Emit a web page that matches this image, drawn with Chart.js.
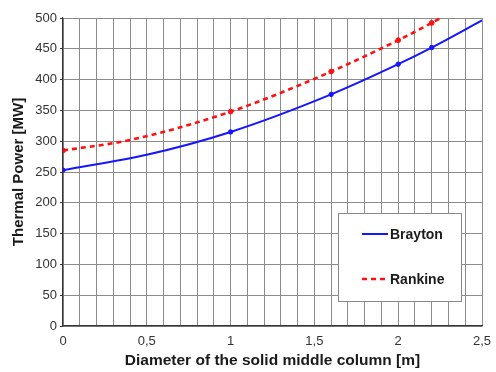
<!DOCTYPE html>
<html>
<head>
<meta charset="utf-8">
<script src="https://cdn.jsdelivr.net/npm/chart.js@4/dist/chart.umd.min.js"></script>
<style>
html,body{margin:0;padding:0;background:#fff;}
#wrap{width:496px;height:372px;position:relative;}
</style>
</head>
<body>
<div id="wrap"><canvas id="c" width="496" height="372"></canvas></div>
<script>
// ---- data ----
const braytonX = [0, 0.5, 1, 1.6, 2, 2.2, 2.5];
const braytonY = [253, 278, 315, 376, 425, 452, 496];
const braytonMarked = [true, false, true, true, true, true, false];

const rankineX = [0, 0.4, 1, 1.6, 2, 2.2, 2.3];
const rankineY = [285, 302, 348, 413, 464, 492, 507];
const rankineMarked = [true, false, true, true, true, true, false];

const seriesNames = ['Brayton', 'Rankine'];
const xTitle = 'Diameter of the solid middle column [m]';
const yTitle = 'Thermal Power [MW]';
const xMin = 0, xMax = 2.5, xStep = 0.1, xLabelEvery = 0.5;
const yMin = 0, yMax = 500, yStep = 50;

const toPoints = (xs, ys) => xs.map((x, i) => ({x: x, y: ys[i]}));

const legendPlugin = {
  id: 'boxLegend',
  afterDraw(chart) {
    const ctx = chart.ctx, a = chart.chartArea;
    const left = a.left + 275, top = a.top + 195, w = 123, h = 88;
    ctx.save();
    ctx.fillStyle = '#ffffff';
    ctx.fillRect(left, top, w, h);
    ctx.strokeStyle = '#8a8a8a';
    ctx.lineWidth = 1;
    ctx.strokeRect(left + 0.5, top + 0.5, w, h);
    const ds = chart.data.datasets;
    const rows = [top + 21, top + 66];
    ds.forEach((d, i) => {
      ctx.beginPath();
      ctx.strokeStyle = d.borderColor;
      ctx.lineWidth = d.borderWidth;
      ctx.setLineDash(d.borderDash || []);
      ctx.moveTo(left + 24, rows[i]);
      ctx.lineTo(left + 50, rows[i]);
      ctx.stroke();
      ctx.setLineDash([]);
      ctx.fillStyle = '#1a1a1a';
      ctx.font = 'bold 14px "Liberation Sans", Arial, sans-serif';
      ctx.textBaseline = 'middle';
      ctx.textAlign = 'left';
      ctx.fillText(d.label, left + 52, rows[i] + 1);
    });
    ctx.restore();
  }
};

new Chart(document.getElementById('c'), {
  type: 'line',
  data: {
    datasets: [
      {
        label: seriesNames[0],
        data: toPoints(braytonX, braytonY),
        borderColor: '#1515ff',
        backgroundColor: '#1515ff',
        borderWidth: 2,
        pointRadius: braytonMarked.map(m => m ? 2.2 : 0),
        pointBorderWidth: 1,
        pointHoverRadius: 0,
        cubicInterpolationMode: 'monotone',
        fill: false
      },
      {
        label: seriesNames[1],
        data: toPoints(rankineX, rankineY),
        borderColor: '#ff1010',
        backgroundColor: '#ff1010',
        borderWidth: 2.6,
        borderDash: [5, 4],
        pointRadius: rankineMarked.map(m => m ? 2.4 : 0),
        pointBorderWidth: 1,
        pointHoverRadius: 0,
        cubicInterpolationMode: 'monotone',
        fill: false
      }
    ]
  },
  options: {
    responsive: false,
    animation: false,
    layout: { padding: { top: 18, right: 14, left: 0, bottom: 0 } },
    plugins: { legend: { display: false }, tooltip: { enabled: false } },
    scales: {
      x: {
        type: 'linear',
        min: xMin, max: xMax,
        afterFit(s) { s.height = 46; },
        ticks: {
          stepSize: xStep,
          autoSkip: false,
          maxRotation: 0,
          color: '#333',
          padding: 3,
          font: { size: 13, family: '"Liberation Sans", Arial, sans-serif' },
          callback(v) {
            const r = Math.round(v * 10);
            if (r % Math.round(xLabelEvery * 10) !== 0) return '';
            return String(r / 10).replace('.', ',');
          }
        },
        grid: { color: '#8c8c8c', lineWidth: 1, drawTicks: true, tickLength: 5, tickColor: 'rgba(0,0,0,0)' },
        border: { color: '#333', width: 1.2 },
        title: {
          display: true, text: xTitle, color: '#1a1a1a',
          font: { size: 15.5, weight: 'bold', family: '"Liberation Sans", Arial, sans-serif' },
          padding: { top: 0, bottom: 2 }
        }
      },
      y: {
        min: yMin, max: yMax,
        afterFit(s) { s.width = 63; },
        ticks: {
          stepSize: yStep,
          color: '#333',
          padding: 3,
          font: { size: 13, family: '"Liberation Sans", Arial, sans-serif' }
        },
        grid: { color: '#8c8c8c', lineWidth: 1, tickLength: 3, tickColor: '#333' },
        border: { color: '#333', width: 1.2 },
        title: {
          display: true, text: yTitle, color: '#1a1a1a',
          font: { size: 15, weight: 'bold', family: '"Liberation Sans", Arial, sans-serif' },
          padding: { top: 10, bottom: 0 }
        }
      }
    }
  },
  plugins: [legendPlugin]
});
</script>
</body>
</html>
